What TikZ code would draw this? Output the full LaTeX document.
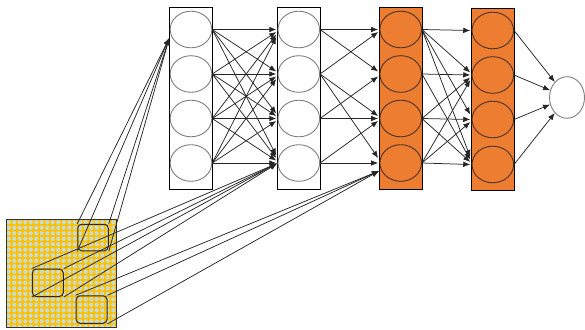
\documentclass[tikz,border=0pt]{standalone}
\usetikzlibrary{arrows.meta,calc,shapes.geometric}
\definecolor{neuronorange}{HTML}{ED7D31}
\definecolor{patyellow}{HTML}{FFC000}
\definecolor{patblue}{HTML}{C6DCD6}
\definecolor{ringgrey}{HTML}{7F7F7F}
\definecolor{ringdark}{HTML}{4A3220}
\tikzset{
  layerbox/.style={draw=black, line width=0.7pt, minimum width=43.4pt, minimum height=182pt, inner sep=0pt},
  whitelayer/.style={layerbox, fill=white},
  orangelayer/.style={layerbox, fill=neuronorange},
  neuron/.style={ellipse, draw=ringgrey, line width=0.9pt, minimum width=41.6pt, minimum height=36.6pt, inner sep=0pt},
  darkneuron/.style={neuron, draw=ringdark},
  conn/.style={-{Latex[length=7pt,width=5.6pt]}, line width=0.75pt, draw=black!85},
  window/.style={draw=black!85, line width=1pt, rounded corners=4pt, inner sep=0pt}
}
\begin{document}
\begin{tikzpicture}[x=1pt,y=-1pt]
\useasboundingbox (0,0) rectangle (585,329);

% hidden layers
\node[whitelayer]  (L1) at (191.0,98.0) {};
\node[whitelayer]  (L2) at (298.8,98.0) {};
\node[orangelayer] (L3) at (400.7,98.0) {};
\node[orangelayer] (L4) at (492.8,99.0) {};

\foreach \k/\yy in {1/29.5,2/74.0,3/118.5,4/163.0} {
  \node[neuron]     (a\k) at (191.0,\yy) {};
  \node[neuron]     (b\k) at (298.8,\yy) {};
  \node[darkneuron] (c\k) at (400.7,\yy) {};
}
\foreach \k/\yy in {1/30.5,2/75.0,3/119.5,4/164.5} {
  \node[darkneuron] (d\k) at (492.8,\yy) {};
}

% output unit
\node[neuron, minimum width=35pt, minimum height=41.6pt] (out) at (567.0,97.5) {};

% input image with dotted texture
\begin{scope}
  \clip (6,219.5) rectangle (116,327);
  \fill[patyellow] (6,219.5) rectangle (116,327);
  \foreach \x in {0,...,19} \foreach \y in {0,...,19}
    \fill[patblue] ({8.75+5.5*\x},{222.25+5.5*\y}) circle (2.1);
\end{scope}
\node[draw=black!80, line width=0.9pt, minimum width=110pt, minimum height=107.5pt, inner sep=0pt] (img) at (61,273.25) {};

% receptive windows
\node[window, minimum width=30.5pt, minimum height=26.5pt] (r1) at (93.0,237.5) {};
\node[window, minimum width=31pt,   minimum height=27.5pt] (r2) at (47.8,282.8) {};
\node[window, minimum width=31pt,   minimum height=27.5pt] (r3) at (91.6,309.5) {};

\coordinate (p1) at (169.3,38.0);
\coordinate (p2) at (277.0,163.5);
\coordinate (p3) at (379.0,171.0);

% windows feeding the layers
\foreach \c in {north west,south west,north east,south east}
  \draw[conn] (r1.\c) -- (p1);
\foreach \c in {north west,south west,north east,south east}
  \draw[conn] (r2.\c) -- (p2);
\foreach \c in {north west,north east,south east}
  \draw[conn] (r3.\c) -- (p3);

% layer 1 -> layer 2 (dense)
\foreach \i in {1,...,4} \foreach \j in {1,...,4}
  \draw[conn] (a\i.east) -- ($(b\j.west)+(-1.3,{2.5*(\i-\j)})$);

% layer 2 -> layer 3
\foreach \i/\j in {1/1,1/2,2/1,2/3,2/4,3/2,3/3,4/3,4/4}
  \draw[conn] (b\i.east) -- ($(c\j.west)+(-1.3,{2.5*(\i-\j)})$);

% layer 3 -> layer 4
\foreach \i/\j in {1/1,1/2,1/3,1/4,2/2,2/4,3/2,3/3,3/4,4/2,4/3,4/4}
  \draw[conn] (c\i.east) -- ($(d\j.west)+(-1.3,{2.5*(\i-\j)})$);

% layer 4 -> output
\foreach \j in {1,...,4}
  \draw[conn] (d\j.east) -- (out);
\end{tikzpicture}
\end{document}
